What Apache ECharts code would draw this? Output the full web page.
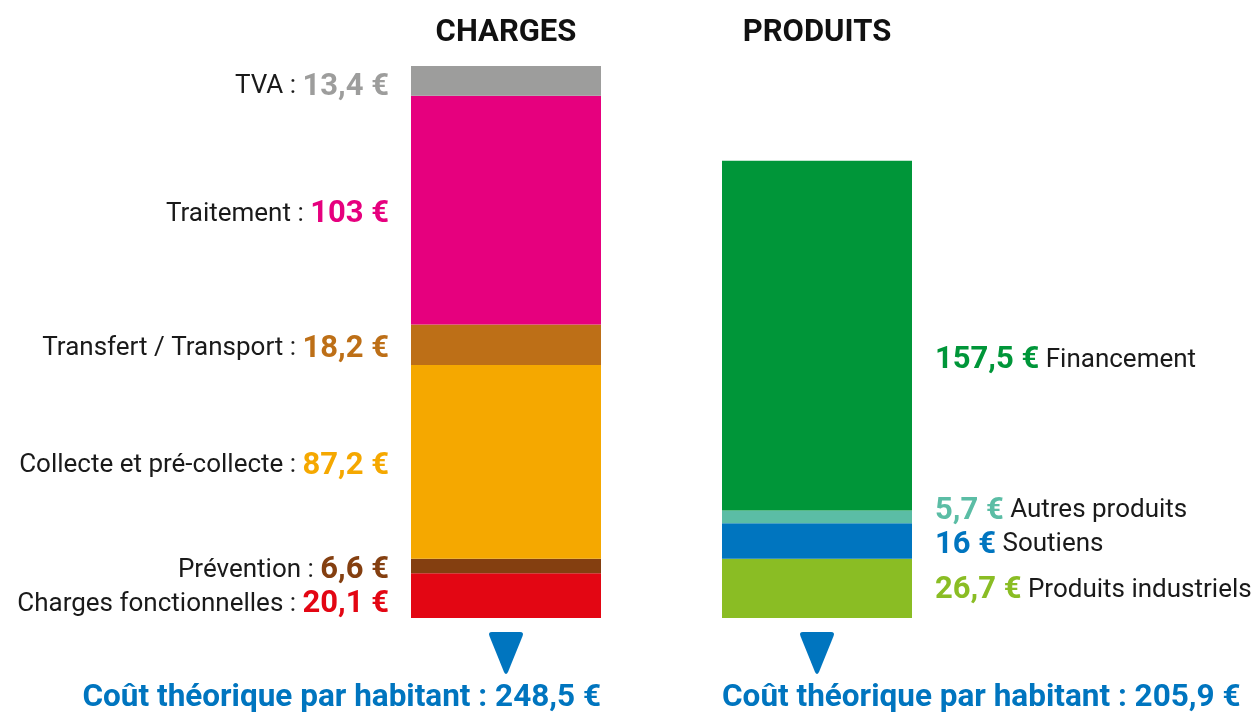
<!DOCTYPE html>
<html><head><meta charset="utf-8">
<script src="https://cdn.jsdelivr.net/npm/echarts@6/dist/echarts.min.js"></script>
<style>html,body{margin:0;padding:0;background:#fff}#c{width:1257px;height:713px}</style>
</head><body><div id="c"></div>
<script>
const categories = ['CHARGES', 'PRODUITS'];
const chargeNames = ['Charges fonctionnelles', 'Prévention', 'Collecte et pré-collecte', 'Transfert / Transport', 'Traitement', 'TVA'];
const chargeValues = [20.1, 6.6, 87.2, 18.2, 103, 13.4];
const chargeColors = ['#E30613', '#843F10', '#F5A800', '#BD6F17', '#E6007E', '#9D9D9C'];
const chargeLabelOffsets = [[0, 9], [0, 4], [0, 4], [0, 4], [0, 4], [0, 6]];
const productNames = ['Produits industriels', 'Soutiens', 'Autres produits', 'Financement'];
const productValues = [26.7, 16, 5.7, 157.5];
const productColors = ['#8ABD24', '#0075BF', '#5BBDA5', '#009639'];
const productLabelOffsets = [[0, 2], [0, 4], [0, -6], [0, 25]];
const totals = [248.5, 205.9];
const totalLabel = 'Coût théorique par habitant : ';

const fmt = v => String(v).replace('.', ',') + ' €';
const font = 'Roboto, "Noto Sans", sans-serif';
const arrow = 'path://M3,0 L31,0 Q35,0 33.5,4 L19,40 Q17,44 15,40 L0.5,4 Q-1,0 3,0 Z';
const series = [];
chargeValues.forEach((v, i) => {
  series.push({
    type: 'bar', stack: 'c', name: chargeNames[i], barWidth: 190,
    data: [v, '-'], itemStyle: { color: chargeColors[i] },
    label: {
      show: true, position: 'left', distance: 22, offset: chargeLabelOffsets[i],
      formatter: () => '{a|' + chargeNames[i] + ' : }{b|' + fmt(v) + '}',
      rich: {
        a: { fontSize: 26, color: '#1a1a1a', fontFamily: font },
        b: { fontSize: 31, fontWeight: 'bold', color: chargeColors[i], fontFamily: font }
      }
    },
    markPoint: i === 0 ? {
      symbol: arrow, symbolSize: [34, 42], symbolOffset: [0, 35], silent: true,
      itemStyle: { color: '#0075BF' }, label: { show: false },
      data: [{ coord: [categories[0], 0] }]
    } : undefined
  });
});
productValues.forEach((v, i) => {
  series.push({
    type: 'bar', stack: 'c', name: productNames[i], barWidth: 190,
    data: ['-', v], itemStyle: { color: productColors[i] },
    label: {
      show: true, position: 'right', distance: 23, offset: productLabelOffsets[i],
      formatter: () => '{b|' + fmt(v) + '}{a| ' + productNames[i] + '}',
      rich: {
        a: { fontSize: 26, color: '#1a1a1a', fontFamily: font },
        b: { fontSize: 31, fontWeight: 'bold', color: productColors[i], fontFamily: font }
      }
    },
    markPoint: i === 0 ? {
      symbol: arrow, symbolSize: [34, 42], symbolOffset: [0, 35], silent: true,
      itemStyle: { color: '#0075BF' }, label: { show: false },
      data: [{ coord: [categories[1], 0] }]
    } : undefined
  });
});

const chart = echarts.init(document.getElementById('c'), null, { renderer: 'canvas' });
chart.setOption({
  animation: false,
  backgroundColor: '#fff',
  grid: { left: 350.5, width: 622, top: 66, bottom: 95 },
  xAxis: {
    type: 'category', data: categories, position: 'top',
    axisLine: { show: false }, axisTick: { show: false },
    axisLabel: { margin: 17, fontSize: 31, fontWeight: 'bold', color: '#111', fontFamily: font }
  },
  yAxis: { type: 'value', min: 0, max: totals[0], show: false, splitLine: { show: false } },
  series: series,
  graphic: [
    { type: 'text', right: 1257 - 601, top: 682,
      style: { text: totalLabel + fmt(totals[0]), fontSize: 31.5, fontWeight: 'bold', fill: '#0075BF', fontFamily: font } },
    { type: 'text', left: 722, top: 682,
      style: { text: totalLabel + fmt(totals[1]), fontSize: 31.5, fontWeight: 'bold', fill: '#0075BF', fontFamily: font } }
  ]
});
</script></body></html>
